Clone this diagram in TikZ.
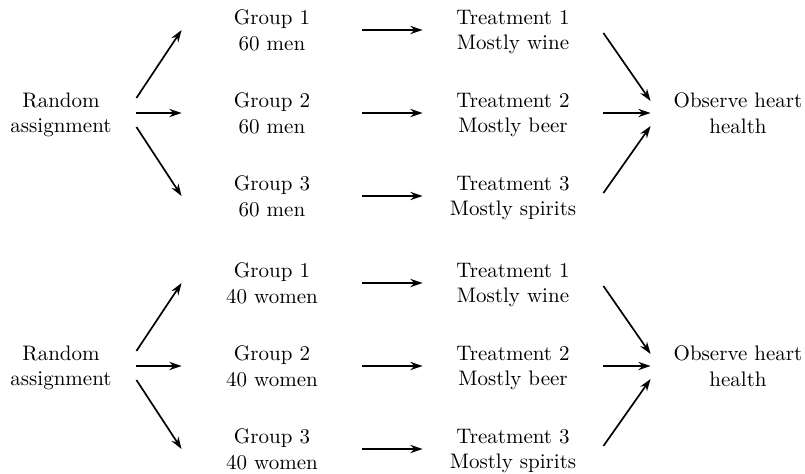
\documentclass[tikz,border=0pt]{standalone}
\usetikzlibrary{arrows.meta,calc}
\begin{document}
\begin{tikzpicture}[x=0.476pt,y=-0.476pt,
  lbl/.style={align=center,inner sep=0pt,text depth=0pt,minimum width=180*0.476pt,minimum height=12pt},
  src/.style={align=center,inner sep=0pt,text depth=0pt,minimum width=150*0.476pt},
  arr/.style={-{Stealth[length=5.8pt,width=3.9pt]},line width=0.8pt}]
\useasboundingbox (0,0) rectangle (805,474);
\foreach \s/\off/\who in {m/0/60 men, w/253/40 women}{
  \node[src] (ra\s) at (61,113+\off) {Random\\assignment};
  \node[lbl] (g1\s) at (272,30+\off) {Group 1\\\who};
  \node[lbl] (g2\s) at (272,113+\off) {Group 2\\\who};
  \node[lbl] (g3\s) at (272,196+\off) {Group 3\\\who};
  \node[lbl] (t1\s) at (513,30+\off) {Treatment 1\\Mostly wine};
  \node[lbl] (t2\s) at (513,113+\off) {Treatment 2\\Mostly beer};
  \node[lbl] (t3\s) at (513,196+\off) {Treatment 3\\Mostly spirits};
  \node[lbl,minimum width=174*0.476pt] (ob\s) at (738,113+\off) {Observe heart\\health};
  \draw[arr] ($(ra\s.east)+(0,-15)$) -- (g1\s.west);
  \draw[arr] (ra\s.east) -- (g2\s.west);
  \draw[arr] ($(ra\s.east)+(0,14)$) -- (g3\s.west);
  \draw[arr] (g1\s.east) -- (t1\s.west);
  \draw[arr] (g2\s.east) -- (t2\s.west);
  \draw[arr] (g3\s.east) -- (t3\s.west);
  \draw[arr] ($(t1\s.east)+(0,3)$) -- ($(ob\s.west)+(0,-12)$);
  \draw[arr] (t2\s.east) -- (ob\s.west);
  \draw[arr] ($(t3\s.east)+(0,-3)$) -- ($(ob\s.west)+(0,13)$);
}
\end{tikzpicture}
\end{document}
